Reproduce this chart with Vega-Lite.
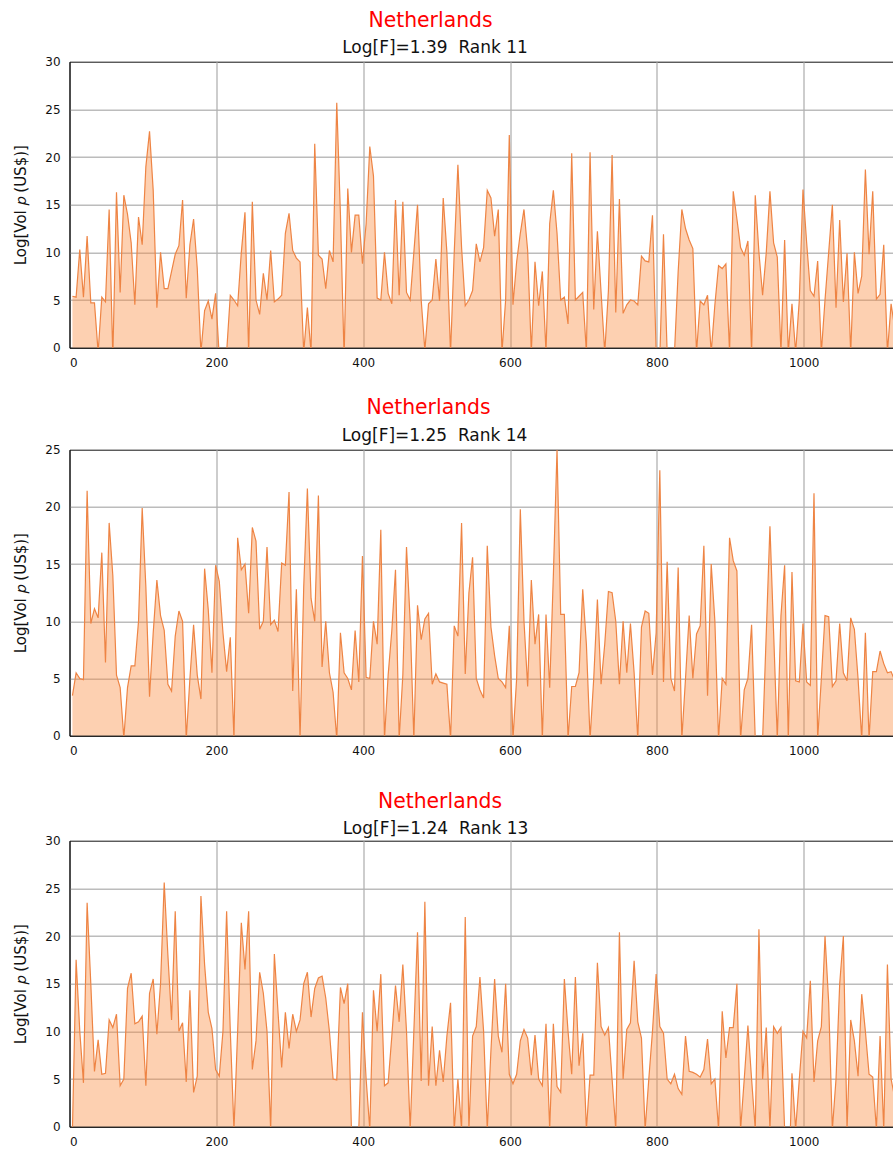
{"$schema":"https://vega.github.io/schema/vega-lite/v6.json","padding":{"left":12.5,"top":10.7,"right":0,"bottom":0},"background":"white","spacing":35,"config":{"font":"DejaVu Sans","view":{"stroke":"#111","strokeWidth":1},"axis":{"labelFont":"DejaVu Sans","labelFontSize":12,"labelColor":"#111","titleFont":"DejaVu Sans","titleFontWeight":"normal","titleFontSize":15,"titleColor":"#111","titlePadding":16.7,"gridColor":"#b0b0b0","gridWidth":1.5,"gridOpacity":{"condition":{"test":"datum.value===0","value":0},"value":0.85},"domain":true,"domainColor":"#111","domainWidth":1,"zindex":1,"ticks":false,"labelPadding":9.5},"title":{"font":"DejaVu Sans","fontWeight":"normal","subtitleFont":"DejaVu Sans","subtitleFontWeight":"normal"}},
"datasets":{
"a":[{"x":4,"y":5.4},{"x":9,"y":5.3},{"x":14,"y":10.3},{"x":19,"y":5.3},{"x":24,"y":11.7},{"x":29,"y":4.7},{"x":34,"y":4.7},{"x":39,"y":-0.5},{"x":44,"y":5.3},{"x":49,"y":4.8},{"x":54,"y":14.5},{"x":59,"y":-1},{"x":64,"y":16.3},{"x":69,"y":5.8},{"x":74,"y":16},{"x":79,"y":14},{"x":84,"y":11},{"x":89,"y":4.5},{"x":94,"y":13.7},{"x":99,"y":10.8},{"x":104,"y":19},{"x":109,"y":22.7},{"x":114,"y":16.5},{"x":119,"y":4.2},{"x":124,"y":10},{"x":129,"y":6.2},{"x":134,"y":6.2},{"x":139,"y":8},{"x":144,"y":9.8},{"x":149,"y":10.7},{"x":154,"y":15.5},{"x":159,"y":5.2},{"x":164,"y":10.8},{"x":169,"y":13.5},{"x":174,"y":8.3},{"x":179,"y":-0.5},{"x":184,"y":3.9},{"x":189,"y":4.9},{"x":194,"y":3},{"x":199,"y":5.7},{"x":204,"y":-1},{"x":209,"y":-8},{"x":214,"y":-0.5},{"x":219,"y":5.5},{"x":224,"y":5},{"x":229,"y":4.4},{"x":234,"y":10},{"x":239,"y":14.2},{"x":244,"y":-0.5},{"x":249,"y":15.3},{"x":254,"y":5},{"x":259,"y":3.5},{"x":264,"y":7.8},{"x":269,"y":5},{"x":274,"y":10.2},{"x":279,"y":4.8},{"x":284,"y":5.1},{"x":289,"y":5.5},{"x":294,"y":12},{"x":299,"y":14.1},{"x":304,"y":10.2},{"x":309,"y":9.4},{"x":314,"y":9},{"x":319,"y":-0.5},{"x":324,"y":4.2},{"x":329,"y":-0.5},{"x":334,"y":21.4},{"x":339,"y":9.7},{"x":344,"y":9.3},{"x":349,"y":6.2},{"x":354,"y":10.2},{"x":359,"y":9},{"x":364,"y":25.7},{"x":369,"y":14},{"x":374,"y":-1},{"x":379,"y":16.7},{"x":384,"y":10},{"x":389,"y":13.9},{"x":394,"y":13.9},{"x":399,"y":8.8},{"x":404,"y":13},{"x":409,"y":21.1},{"x":414,"y":18},{"x":419,"y":5.2},{"x":424,"y":5},{"x":429,"y":10},{"x":434,"y":5.7},{"x":439,"y":4.6},{"x":444,"y":15.5},{"x":449,"y":5.5},{"x":454,"y":15.3},{"x":459,"y":5.8},{"x":464,"y":5},{"x":469,"y":10},{"x":474,"y":15},{"x":479,"y":5},{"x":484,"y":-0.3},{"x":489,"y":4.6},{"x":494,"y":5},{"x":499,"y":9.3},{"x":504,"y":4.9},{"x":509,"y":15.7},{"x":514,"y":10},{"x":519,"y":-0.5},{"x":524,"y":10},{"x":529,"y":19.2},{"x":534,"y":10.5},{"x":539,"y":4.4},{"x":544,"y":5},{"x":549,"y":6},{"x":554,"y":10.9},{"x":559,"y":9},{"x":564,"y":10.5},{"x":569,"y":16.5},{"x":574,"y":15.7},{"x":579,"y":11.7},{"x":584,"y":14.5},{"x":589,"y":-0.5},{"x":594,"y":5},{"x":599,"y":22.3},{"x":604,"y":4.5},{"x":609,"y":9},{"x":614,"y":12},{"x":619,"y":14.5},{"x":624,"y":10.2},{"x":629,"y":-0.5},{"x":634,"y":9},{"x":639,"y":4.4},{"x":644,"y":8},{"x":649,"y":-0.5},{"x":654,"y":13},{"x":659,"y":16.5},{"x":664,"y":12},{"x":669,"y":5},{"x":674,"y":5.3},{"x":679,"y":2.5},{"x":684,"y":20.4},{"x":689,"y":5},{"x":694,"y":5.4},{"x":699,"y":5.8},{"x":704,"y":-0.5},{"x":709,"y":20.5},{"x":714,"y":4},{"x":719,"y":12.2},{"x":724,"y":5.8},{"x":729,"y":-0.5},{"x":734,"y":6},{"x":739,"y":20.2},{"x":744,"y":3.7},{"x":749,"y":15.6},{"x":754,"y":3.6},{"x":759,"y":4.5},{"x":764,"y":5},{"x":769,"y":4.9},{"x":774,"y":4.5},{"x":779,"y":9.6},{"x":784,"y":9.1},{"x":789,"y":9},{"x":794,"y":13.9},{"x":799,"y":-0.5},{"x":804,"y":-1},{"x":809,"y":11.9},{"x":814,"y":-0.5},{"x":819,"y":-8},{"x":824,"y":-0.5},{"x":829,"y":8},{"x":834,"y":14.5},{"x":839,"y":12.5},{"x":844,"y":11.3},{"x":849,"y":10.4},{"x":854,"y":-0.5},{"x":859,"y":4.9},{"x":864,"y":4.5},{"x":869,"y":5.5},{"x":874,"y":-0.5},{"x":879,"y":4.5},{"x":884,"y":8.6},{"x":889,"y":8.3},{"x":894,"y":8.8},{"x":899,"y":-0.5},{"x":904,"y":16.4},{"x":909,"y":13.5},{"x":914,"y":10.5},{"x":919,"y":9.7},{"x":924,"y":11.2},{"x":929,"y":-0.5},{"x":934,"y":16},{"x":939,"y":10},{"x":944,"y":5.5},{"x":949,"y":10},{"x":954,"y":16.4},{"x":959,"y":11},{"x":964,"y":9.5},{"x":969,"y":-0.5},{"x":974,"y":11.3},{"x":979,"y":-0.5},{"x":984,"y":4.6},{"x":989,"y":-0.5},{"x":994,"y":5},{"x":999,"y":16.6},{"x":1004,"y":11},{"x":1009,"y":6},{"x":1014,"y":5.4},{"x":1019,"y":9.1},{"x":1024,"y":-0.5},{"x":1029,"y":5},{"x":1034,"y":10},{"x":1039,"y":15},{"x":1044,"y":4.2},{"x":1049,"y":13.4},{"x":1054,"y":4.8},{"x":1059,"y":9.9},{"x":1064,"y":-0.5},{"x":1069,"y":10},{"x":1074,"y":5.7},{"x":1079,"y":7.5},{"x":1084,"y":18.7},{"x":1089,"y":9.8},{"x":1094,"y":16.4},{"x":1099,"y":5.1},{"x":1104,"y":5.6},{"x":1109,"y":10.8},{"x":1114,"y":-0.5},{"x":1119,"y":4.6},{"x":1124,"y":2}],
"b":[{"x":4,"y":3.5},{"x":9,"y":5.5},{"x":14,"y":5},{"x":19,"y":4.9},{"x":24,"y":21.4},{"x":29,"y":9.8},{"x":34,"y":11.1},{"x":39,"y":10.3},{"x":44,"y":16},{"x":49,"y":6.4},{"x":54,"y":18.6},{"x":59,"y":14},{"x":64,"y":5.3},{"x":69,"y":4.2},{"x":74,"y":-0.2},{"x":79,"y":4.2},{"x":84,"y":6.1},{"x":89,"y":6.1},{"x":94,"y":10},{"x":99,"y":19.9},{"x":104,"y":13},{"x":109,"y":3.4},{"x":114,"y":9},{"x":119,"y":13.6},{"x":124,"y":10.5},{"x":129,"y":9.2},{"x":134,"y":4.5},{"x":139,"y":3.9},{"x":144,"y":8.7},{"x":149,"y":10.9},{"x":154,"y":10},{"x":159,"y":-0.3},{"x":164,"y":5},{"x":169,"y":9.7},{"x":174,"y":5.3},{"x":179,"y":3.2},{"x":184,"y":14.6},{"x":189,"y":11},{"x":194,"y":5.5},{"x":199,"y":14.9},{"x":204,"y":13.5},{"x":209,"y":9},{"x":214,"y":5.6},{"x":219,"y":8.6},{"x":224,"y":-0.3},{"x":229,"y":17.3},{"x":234,"y":14.5},{"x":239,"y":15},{"x":244,"y":10.7},{"x":249,"y":18.2},{"x":254,"y":17},{"x":259,"y":9.3},{"x":264,"y":10},{"x":269,"y":16.5},{"x":274,"y":9.7},{"x":279,"y":10.1},{"x":284,"y":9.1},{"x":289,"y":15.1},{"x":294,"y":14.9},{"x":299,"y":21.3},{"x":304,"y":3.9},{"x":309,"y":12.8},{"x":314,"y":-0.3},{"x":319,"y":13},{"x":324,"y":21.6},{"x":329,"y":12},{"x":334,"y":10},{"x":339,"y":21},{"x":344,"y":6},{"x":349,"y":10},{"x":354,"y":5.5},{"x":359,"y":3.8},{"x":364,"y":-0.3},{"x":369,"y":9},{"x":374,"y":5.5},{"x":379,"y":5},{"x":384,"y":4},{"x":389,"y":9.2},{"x":394,"y":4.7},{"x":399,"y":15.7},{"x":404,"y":5.1},{"x":409,"y":5},{"x":414,"y":10},{"x":419,"y":8},{"x":424,"y":18},{"x":429,"y":-0.3},{"x":434,"y":5.3},{"x":439,"y":9.2},{"x":444,"y":14.5},{"x":449,"y":-0.3},{"x":454,"y":5.3},{"x":459,"y":16.5},{"x":464,"y":10},{"x":469,"y":-0.3},{"x":474,"y":11.4},{"x":479,"y":8.4},{"x":484,"y":10.2},{"x":489,"y":10.7},{"x":494,"y":4.5},{"x":499,"y":5.4},{"x":504,"y":4.7},{"x":509,"y":4.6},{"x":514,"y":4.5},{"x":519,"y":-0.3},{"x":524,"y":9.6},{"x":529,"y":8.7},{"x":534,"y":18.6},{"x":539,"y":5.4},{"x":544,"y":12.5},{"x":549,"y":15.6},{"x":554,"y":5},{"x":559,"y":4},{"x":564,"y":3.3},{"x":569,"y":16.6},{"x":574,"y":9.5},{"x":579,"y":7},{"x":584,"y":5},{"x":589,"y":4.7},{"x":594,"y":4.2},{"x":599,"y":9.6},{"x":604,"y":-0.3},{"x":609,"y":5},{"x":614,"y":19.8},{"x":619,"y":10},{"x":624,"y":4.3},{"x":629,"y":13.6},{"x":634,"y":8},{"x":639,"y":10.6},{"x":644,"y":-0.3},{"x":649,"y":10.6},{"x":654,"y":4.2},{"x":659,"y":14},{"x":664,"y":25},{"x":669,"y":10.6},{"x":674,"y":10.6},{"x":679,"y":-0.3},{"x":684,"y":4.3},{"x":689,"y":4.3},{"x":694,"y":5.5},{"x":699,"y":12.8},{"x":704,"y":8},{"x":709,"y":-0.3},{"x":714,"y":5},{"x":719,"y":11.9},{"x":724,"y":4.5},{"x":729,"y":8},{"x":734,"y":12.6},{"x":739,"y":12.5},{"x":744,"y":10},{"x":749,"y":4.5},{"x":754,"y":10},{"x":759,"y":5.5},{"x":764,"y":9.8},{"x":769,"y":5.5},{"x":774,"y":-0.3},{"x":779,"y":9.5},{"x":784,"y":10.9},{"x":789,"y":10.7},{"x":794,"y":5.3},{"x":799,"y":9},{"x":804,"y":23.2},{"x":809,"y":4.7},{"x":814,"y":15.2},{"x":819,"y":5},{"x":824,"y":3.9},{"x":829,"y":14.7},{"x":834,"y":-0.3},{"x":839,"y":5},{"x":844,"y":10.5},{"x":849,"y":5},{"x":854,"y":8.9},{"x":859,"y":9.6},{"x":864,"y":16.6},{"x":869,"y":3.5},{"x":874,"y":15},{"x":879,"y":10},{"x":884,"y":-0.3},{"x":889,"y":5},{"x":894,"y":4.5},{"x":899,"y":17.3},{"x":904,"y":15.3},{"x":909,"y":14.4},{"x":914,"y":-0.3},{"x":919,"y":4},{"x":924,"y":5},{"x":929,"y":9.7},{"x":934,"y":-0.3},{"x":939,"y":-9},{"x":944,"y":-0.3},{"x":949,"y":9},{"x":954,"y":18.3},{"x":959,"y":9},{"x":964,"y":-0.3},{"x":969,"y":10.5},{"x":974,"y":14.9},{"x":979,"y":-0.3},{"x":984,"y":14.3},{"x":989,"y":4.8},{"x":994,"y":4.7},{"x":999,"y":9.8},{"x":1004,"y":4.7},{"x":1009,"y":4.4},{"x":1014,"y":21.2},{"x":1019,"y":-0.3},{"x":1024,"y":5},{"x":1029,"y":10.5},{"x":1034,"y":10.4},{"x":1039,"y":4.3},{"x":1044,"y":4.8},{"x":1049,"y":9.8},{"x":1054,"y":5.5},{"x":1059,"y":4.8},{"x":1064,"y":10.3},{"x":1069,"y":9.3},{"x":1074,"y":5},{"x":1079,"y":-0.3},{"x":1084,"y":9},{"x":1089,"y":-0.3},{"x":1094,"y":5.6},{"x":1099,"y":5.6},{"x":1104,"y":7.4},{"x":1109,"y":6.3},{"x":1114,"y":5.5},{"x":1119,"y":5.6},{"x":1124,"y":4.8}],
"c":[{"x":4,"y":-0.3},{"x":9,"y":17.5},{"x":14,"y":10},{"x":19,"y":4.6},{"x":24,"y":23.5},{"x":29,"y":15},{"x":34,"y":5.8},{"x":39,"y":9.1},{"x":44,"y":5.5},{"x":49,"y":5.6},{"x":54,"y":11.2},{"x":59,"y":10.4},{"x":64,"y":11.8},{"x":69,"y":4.3},{"x":74,"y":5},{"x":79,"y":14.5},{"x":84,"y":16.1},{"x":89,"y":10.8},{"x":94,"y":11},{"x":99,"y":11.6},{"x":104,"y":4.3},{"x":109,"y":14},{"x":114,"y":15.5},{"x":119,"y":9.7},{"x":124,"y":15},{"x":129,"y":25.6},{"x":134,"y":18},{"x":139,"y":11.2},{"x":144,"y":22.6},{"x":149,"y":10},{"x":154,"y":10.9},{"x":159,"y":4.7},{"x":164,"y":14.3},{"x":169,"y":3.6},{"x":174,"y":5.3},{"x":179,"y":24.2},{"x":184,"y":17},{"x":189,"y":12},{"x":194,"y":10.3},{"x":199,"y":6},{"x":204,"y":5.3},{"x":209,"y":10},{"x":214,"y":22.6},{"x":219,"y":10},{"x":224,"y":-0.3},{"x":229,"y":10},{"x":234,"y":21.4},{"x":239,"y":16.5},{"x":244,"y":22.6},{"x":249,"y":6},{"x":254,"y":9},{"x":259,"y":16.2},{"x":264,"y":14},{"x":269,"y":10},{"x":274,"y":-0.3},{"x":279,"y":18.1},{"x":284,"y":12},{"x":289,"y":6.2},{"x":294,"y":12},{"x":299,"y":8.2},{"x":304,"y":11.8},{"x":309,"y":10},{"x":314,"y":11.2},{"x":319,"y":15},{"x":324,"y":16.2},{"x":329,"y":11.5},{"x":334,"y":14.5},{"x":339,"y":15.6},{"x":344,"y":15.8},{"x":349,"y":13.5},{"x":354,"y":10},{"x":359,"y":5},{"x":364,"y":4.9},{"x":369,"y":14.6},{"x":374,"y":12.9},{"x":379,"y":15},{"x":384,"y":-0.3},{"x":389,"y":-8},{"x":394,"y":-0.3},{"x":399,"y":12},{"x":404,"y":5},{"x":409,"y":-0.3},{"x":414,"y":14.3},{"x":419,"y":10},{"x":424,"y":16},{"x":429,"y":4.3},{"x":434,"y":4.6},{"x":439,"y":9.5},{"x":444,"y":14.8},{"x":449,"y":11},{"x":454,"y":17},{"x":459,"y":10},{"x":464,"y":-0.3},{"x":469,"y":10},{"x":474,"y":20.4},{"x":479,"y":4.8},{"x":484,"y":23.6},{"x":489,"y":4.3},{"x":494,"y":10.5},{"x":499,"y":4.3},{"x":504,"y":8},{"x":509,"y":4.7},{"x":514,"y":9.5},{"x":519,"y":13},{"x":524,"y":-0.3},{"x":529,"y":5},{"x":534,"y":-0.3},{"x":539,"y":22},{"x":544,"y":-0.3},{"x":549,"y":9.5},{"x":554,"y":10.5},{"x":559,"y":15.7},{"x":564,"y":10},{"x":569,"y":-0.3},{"x":574,"y":8},{"x":579,"y":15.5},{"x":584,"y":9.5},{"x":589,"y":7.8},{"x":594,"y":15},{"x":599,"y":5.5},{"x":604,"y":4.5},{"x":609,"y":5.5},{"x":614,"y":9},{"x":619,"y":10.2},{"x":624,"y":9.3},{"x":629,"y":5.4},{"x":634,"y":9.6},{"x":639,"y":5},{"x":644,"y":4.3},{"x":649,"y":10.8},{"x":654,"y":-0.3},{"x":659,"y":10.8},{"x":664,"y":4.2},{"x":669,"y":3.6},{"x":674,"y":15.5},{"x":679,"y":10},{"x":684,"y":5.5},{"x":689,"y":15.7},{"x":694,"y":6.4},{"x":699,"y":9.8},{"x":704,"y":-0.3},{"x":709,"y":5.4},{"x":714,"y":5.4},{"x":719,"y":17.2},{"x":724,"y":10.5},{"x":729,"y":9.6},{"x":734,"y":10.4},{"x":739,"y":5},{"x":744,"y":-0.3},{"x":749,"y":20.4},{"x":754,"y":5},{"x":759,"y":10.2},{"x":764,"y":10.9},{"x":769,"y":17.4},{"x":774,"y":11},{"x":779,"y":9.3},{"x":784,"y":-0.3},{"x":789,"y":5},{"x":794,"y":10},{"x":799,"y":16},{"x":804,"y":10.5},{"x":809,"y":9.8},{"x":814,"y":5},{"x":819,"y":4.5},{"x":824,"y":5.5},{"x":829,"y":4},{"x":834,"y":3.4},{"x":839,"y":9.5},{"x":844,"y":5.8},{"x":849,"y":5.7},{"x":854,"y":5.5},{"x":859,"y":5.2},{"x":864,"y":6},{"x":869,"y":9.2},{"x":874,"y":4.5},{"x":879,"y":5},{"x":884,"y":-0.3},{"x":889,"y":12.1},{"x":894,"y":7.2},{"x":899,"y":10.4},{"x":904,"y":10.4},{"x":909,"y":15},{"x":914,"y":-0.3},{"x":919,"y":5},{"x":924,"y":10.6},{"x":929,"y":5},{"x":934,"y":-0.3},{"x":939,"y":20.7},{"x":944,"y":5},{"x":949,"y":10.4},{"x":954,"y":-0.3},{"x":959,"y":10.5},{"x":964,"y":9.8},{"x":969,"y":10.4},{"x":974,"y":-0.3},{"x":979,"y":-8},{"x":984,"y":5.6},{"x":989,"y":-0.3},{"x":994,"y":5},{"x":999,"y":10},{"x":1004,"y":9.3},{"x":1009,"y":15.3},{"x":1014,"y":4.7},{"x":1019,"y":9},{"x":1024,"y":10.5},{"x":1029,"y":20},{"x":1034,"y":13},{"x":1039,"y":-0.3},{"x":1044,"y":5},{"x":1049,"y":15},{"x":1054,"y":20},{"x":1059,"y":-0.3},{"x":1064,"y":11.2},{"x":1069,"y":9},{"x":1074,"y":5.3},{"x":1079,"y":13.9},{"x":1084,"y":10},{"x":1089,"y":5.5},{"x":1094,"y":5.2},{"x":1099,"y":-0.3},{"x":1104,"y":9.5},{"x":1109,"y":-0.3},{"x":1114,"y":17},{"x":1119,"y":5},{"x":1124,"y":3}]
},
"vconcat":[
{"spacing":29,"vconcat":[
{"width":826,"height":286,"title":{"text":"Netherlands","subtitle":"Log[F]=1.39\u00a0 Rank 11","color":"red","fontSize":20.4,"subtitleFontSize":17,"subtitleColor":"#111","subtitlePadding":8,"offset":0,"dx":-47.5,"encoding":{"dx":{"value":-52}}},"data":{"name":"a"},"encoding":{"x":{"field":"x","type":"quantitative","scale":{"domain":[0,1125],"nice":false},"axis":{"values":[0,200,400,600,800,1000],"format":"d","title":null}},"y":{"field":"y","type":"quantitative","scale":{"domain":[0,30],"nice":false},"axis":{"values":[0,5,10,15,20,25,30],"title":"Log[Vol 𝑝 (US$)]","gridOpacity":{"condition":{"test":"datum.value===0||datum.value===30","value":0},"value":0.85}}}},"layer":[{"mark":{"type":"area","color":"#fb8a3c","opacity":0.4,"clip":true}},{"mark":{"type":"line","color":"#ee8444","strokeWidth":1.2,"clip":true}}]},
{"width":826,"height":286,"title":{"text":"Netherlands","subtitle":"Log[F]=1.25\u00a0 Rank 14","color":"red","fontSize":20.4,"subtitleFontSize":17,"subtitleColor":"#111","subtitlePadding":9,"offset":0,"dx":-48,"encoding":{"dx":{"value":-54}}},"data":{"name":"b"},"encoding":{"x":{"field":"x","type":"quantitative","scale":{"domain":[0,1125],"nice":false},"axis":{"values":[0,200,400,600,800,1000],"format":"d","title":null}},"y":{"field":"y","type":"quantitative","scale":{"domain":[0,25],"nice":false},"axis":{"values":[0,5,10,15,20,25],"title":"Log[Vol 𝑝 (US$)]","gridOpacity":{"condition":{"test":"datum.value===0||datum.value===25","value":0},"value":0.85}}}},"layer":[{"mark":{"type":"area","color":"#fb8a3c","opacity":0.4,"clip":true}},{"mark":{"type":"line","color":"#ee8444","strokeWidth":1.2,"clip":true}}]}
]},
{"width":826,"height":286,"title":{"text":"Netherlands","subtitle":"Log[F]=1.24\u00a0 Rank 13","color":"red","fontSize":20.4,"subtitleFontSize":17,"subtitleColor":"#111","subtitlePadding":8,"offset":-2,"dx":-47,"encoding":{"dx":{"value":-42.5}}},"data":{"name":"c"},"encoding":{"x":{"field":"x","type":"quantitative","scale":{"domain":[0,1125],"nice":false},"axis":{"values":[0,200,400,600,800,1000],"format":"d","title":null}},"y":{"field":"y","type":"quantitative","scale":{"domain":[0,30],"nice":false},"axis":{"values":[0,5,10,15,20,25,30],"title":"Log[Vol 𝑝 (US$)]","gridOpacity":{"condition":{"test":"datum.value===0||datum.value===30","value":0},"value":0.85}}}},"layer":[{"mark":{"type":"area","color":"#fb8a3c","opacity":0.4,"clip":true}},{"mark":{"type":"line","color":"#ee8444","strokeWidth":1.2,"clip":true}}]}
]}
